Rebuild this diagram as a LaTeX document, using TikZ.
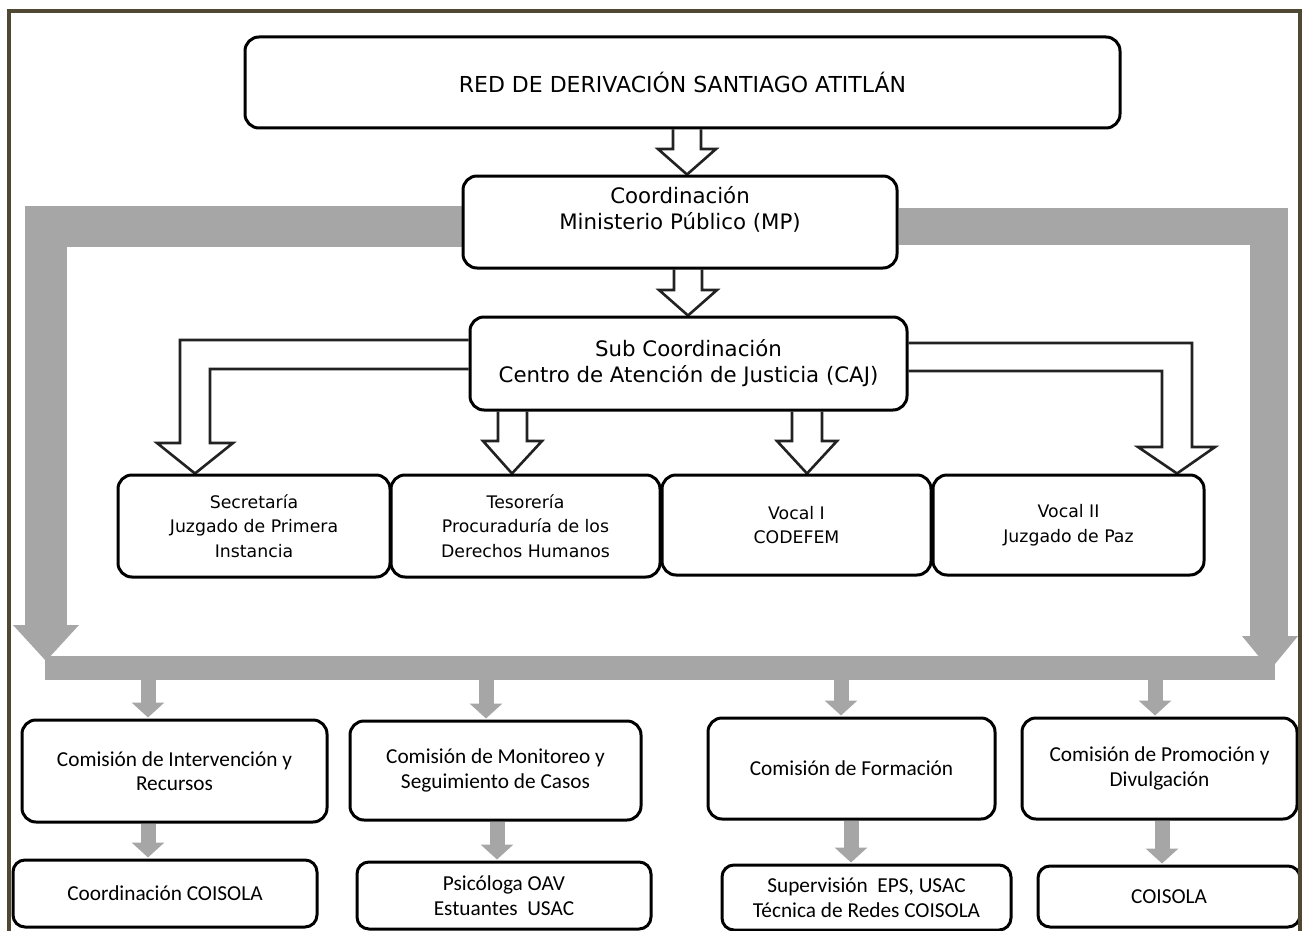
\documentclass[tikz,border=0pt]{standalone}
\usepackage{fontspec}
\setmainfont{DejaVu Sans}
\newfontfamily\calfont{Carlito}
\usetikzlibrary{calc,backgrounds,arrows.meta}
\definecolor{gbar}{HTML}{A6A6A6}
\definecolor{framec}{HTML}{4F4832}
\definecolor{hol}{HTML}{222222}
\begin{document}
\begin{tikzpicture}[x=1pt,y=-1pt,
  box/.style={draw=black, line width=3pt, rounded corners=14pt, fill=white, align=center, inner sep=2pt},
  redfont/.style={font=\fontsize{22}{26}\selectfont},
  topfont/.style={font=\fontsize{21.3}{26}\selectfont},
  midfont/.style={font=\fontsize{17.3}{24.5}\selectfont},
  botfont/.style={font=\calfont\fontsize{21.3}{24.5}\selectfont},
  hollow/.style={draw=hol, line width=2.6pt, fill=white, line join=miter},
  garr/.style={draw=gbar, line width=15pt, -{Triangle[width=32pt,length=15pt]}},
]
\useasboundingbox (0,0) rectangle (1306,931);

% ---- nodes ----
\node[box, redfont, minimum width=875pt, minimum height=91pt] (red) at (682.5,82.5) {RED DE DERIVACIÓN SANTIAGO ATITLÁN};
\node[box, topfont, minimum width=434pt, minimum height=92pt] (coord) at (680,222) {\raisebox{11pt}[\height][\depth]{\begin{tabular}{@{}c@{}}Coordinación\\[0pt]Ministerio Público (MP)\end{tabular}}};
\node[box, topfont, minimum width=437pt, minimum height=93pt] (sub) at (688.5,363.5) {Sub Coordinación\\Centro de Atención de Justicia (CAJ)};

\node[box, midfont, minimum width=272pt, minimum height=102pt] (sec) at (254,526) {Secretaría\\Juzgado de Primera\\Instancia};
\node[box, midfont, minimum width=269pt, minimum height=102pt] (tes) at (525.5,526) {Tesorería\\Procuraduría de los\\Derechos Humanos};
\node[box, midfont, minimum width=269pt, minimum height=100pt] (vi) at (796.5,525) {Vocal I\\CODEFEM};
\node[box, midfont, minimum width=271pt, minimum height=100pt] (vii) at (1068.5,525) {Vocal II\\Juzgado de Paz};

\node[box, botfont, minimum width=305pt, minimum height=102pt] (ca) at (174.5,771) {Comisión de Intervención y\\Recursos};
\node[box, botfont, minimum width=291pt, minimum height=99pt] (cb) at (495.5,770.5) {Comisión de Monitoreo y\\Seguimiento de Casos};
\node[box, botfont, minimum width=287pt, minimum height=101pt] (cc) at (851.5,768.5) {Comisión de Formación};
\node[box, botfont, minimum width=275pt, minimum height=101pt] (cd) at (1159.5,768.5) {Comisión de Promoción y\\Divulgación};

\node[box, botfont, rounded corners=12pt, minimum width=304pt, minimum height=67pt] (ba) at (165,893.5) {Coordinación COISOLA};
\node[box, botfont, rounded corners=12pt, minimum width=294pt, minimum height=67pt] (bb) at (504,895.5) {Psicóloga OAV\\Estuantes\ \ USAC};
\node[box, botfont, rounded corners=12pt, minimum width=289pt, minimum height=65pt] (bc) at (866.5,897.5) {Supervisión\ \ EPS, USAC\\Técnica de Redes COISOLA};
\node[box, botfont, rounded corners=12pt, minimum width=262pt, minimum height=61pt] (bd) at (1169,896.5) {COISOLA};

\coordinate (bandL) at (45,668);
\coordinate (bandR) at (1275,668);

% ---- connectors (behind nodes) ----
\begin{scope}[on background layer]
  \fill[white] (0,0) rectangle (1306,931);
  % big grey U arrow
  \fill[gbar] (25,206) rectangle (coord.west |- 0,247);
  \fill[gbar] (25,206) rectangle (67,626);
  \fill[gbar] (13,625) -- (79,625) -- (46,661) -- cycle;
  \fill[gbar] (coord.east |- 0,208) rectangle (1288,245);
  \fill[gbar] (1250,208) rectangle (1288,636);
  \fill[gbar] (1242,636) -- (1298,636) -- (1270,670) -- cycle;
  \fill[gbar] (bandL |- 0,656) rectangle (bandR |- 0,680);
  % small grey arrows
  \draw[garr] (148,680) -- ([xshift=-26.5pt,yshift=1pt]ca.north);
  \draw[garr] (486,680) -- ([xshift=-9.5pt,yshift=1pt]cb.north);
  \draw[garr] (841,680) -- ([xshift=-10.5pt,yshift=1pt]cc.north);
  \draw[garr] (1155,680) -- ([xshift=-4.5pt,yshift=1pt]cd.north);
  \draw[garr] ([xshift=-26.5pt]ca.south) -- ([xshift=-17pt,yshift=1pt]ba.north);
  \draw[garr] ([xshift=1.5pt]cb.south) -- ([xshift=-7pt,yshift=1pt]bb.north);
  \draw[garr] ([xshift=-0.5pt]cc.south) -- ([xshift=-15.5pt,yshift=1pt]bc.north);
  \draw[garr] ([xshift=2.5pt]cd.south) -- ([xshift=-7pt,yshift=1pt]bd.north);
  % hollow arrows
  \draw[hollow] (673,0 |- red.south) -- (673,149) -- (658,149) -- (687,0 |- coord.north) -- (716,149) -- (701,149) -- (701,0 |- red.south);
  \draw[hollow] (674,0 |- coord.south) -- (674,290) -- (659,290) -- (688,0 |- sub.north) -- (717,290) -- (702,290) -- (702,0 |- coord.south);
  \draw[hollow] (498,0 |- sub.south) -- (498,441) -- (483,441) -- (512,0 |- tes.north) -- (542,441) -- (527,441) -- (527,0 |- sub.south);
  \draw[hollow] (792,0 |- sub.south) -- (792,441) -- (777,441) -- (807,0 |- vi.north) -- (837,441) -- (822,441) -- (822,0 |- sub.south);
  \draw[hollow] (sub.west |- 0,340) -- (180,340) -- (180,443) -- (157,443) -- (195,0 |- sec.north) -- (233,443) -- (210,443) -- (210,369) -- (sub.west |- 0,369);
  \draw[hollow] (sub.east |- 0,343) -- (1192,343) -- (1192,447) -- (1215,447) -- (1177,0 |- vii.north) -- (1138,447) -- (1162,447) -- (1162,371) -- (sub.east |- 0,371);
\end{scope}

% frame
\draw[framec, line width=4pt] (8.5,960) -- (8.5,11.5) -- (1299.5,11.5) -- (1299.5,960);
\end{tikzpicture}
\end{document}
